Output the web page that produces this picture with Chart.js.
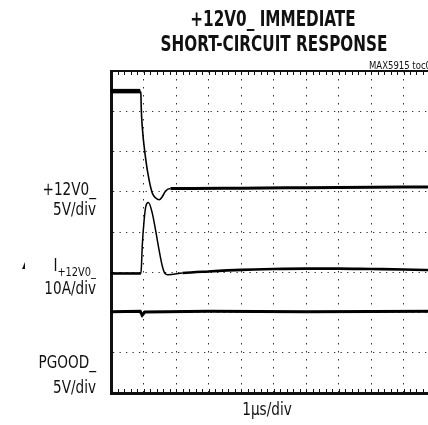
<!DOCTYPE html>
<html>
<head>
<meta charset="utf-8">
<script src="https://cdn.jsdelivr.net/npm/chart.js@4.4.0/dist/chart.umd.min.js"></script>
<style>
  html, body { margin: 0; padding: 0; background: #fff; overflow: hidden; }
  #wrap { width: 445px; height: 425px; }
</style>
</head>
<body>
<div id="wrap"><canvas id="scope" width="445" height="425"></canvas></div>
<script>
// Scope readings, in divisions (x: 0..10 @ 1us/div, y: 0..8)
const vTime  = [0, 0.90, 0.92, 0.93, 0.96, 1.07, 1.17, 1.27, 1.37, 1.48, 1.58, 1.68, 1.83, 2.5, 4, 6, 8, 10];
const vLevel = [7.5, 7.5, 7.42, 7.1, 6.63, 5.8, 5.3, 4.97, 4.85, 4.8, 4.88, 5.02, 5.08, 5.08, 5.09, 5.1, 5.11, 5.12];

const iTime  = [0, 0.92, 0.94, 0.96, 1.02, 1.07, 1.15, 1.27, 1.37, 1.48, 1.58, 1.66, 1.75, 2.2, 3, 4, 5, 6, 7, 8, 9, 10];
const iLevel = [2.97, 2.97, 3.2, 3.63, 4.3, 4.63, 4.73, 4.47, 4.05, 3.55, 3.15, 2.97, 2.94, 2.98, 3.02, 3.06, 3.08, 3.09, 3.09, 3.08, 3.07, 3.05];

const pTime  = [0, 0.90, 0.96, 1.04, 3, 6, 10];
const pLevel = [2.02, 2.03, 1.93, 2.01, 2.03, 2.02, 2.03];

const xDivs = [0, 10];
const yDivs = [0, 8];

const FONT = '"DejaVu Sans Condensed", "DejaVu Sans", sans-serif';

function pts(xs, ys) {
  return xs.map((x, i) => ({ x, y: ys[i] }));
}

// thin pen on the fast edges, thicker on the noisy flat parts
function penWidth(thick, thin, edge) {
  return ctx => {
    const x = ctx.p0.parsed.x;
    return (x >= edge[0] && x < edge[1]) ? thin : thick;
  };
}

// no narrow font installed, so squeeze a condensed one a bit more
function squeezed(ctx, text, x, y, sx, align) {
  ctx.save();
  ctx.translate(x, y);
  ctx.scale(sx, 1);
  ctx.textAlign = align;
  ctx.fillText(text, 0, 0);
  ctx.restore();
}

// frame, minor ticks and all the labels around the screen
const scopeDecor = {
  id: 'scopeDecor',
  afterDraw(chart) {
    const { ctx, chartArea: a, scales: { x } } = chart;
    ctx.save();
    ctx.strokeStyle = '#111';

    // top edge
    ctx.lineWidth = 2;
    ctx.beginPath();
    ctx.moveTo(a.left, a.top);
    ctx.lineTo(a.right + 1, a.top);
    ctx.stroke();

    // minor ticks at 1/5 div along top and bottom
    ctx.lineWidth = 1;
    ctx.beginPath();
    for (let v = xDivs[0]; v <= xDivs[1] + 1e-6; v += 0.2) {
      const px = Math.round(x.getPixelForValue(v)) + 0.5;
      ctx.moveTo(px, a.top);
      ctx.lineTo(px, a.top + 4);
      ctx.moveTo(px, a.bottom);
      ctx.lineTo(px, a.bottom - 4);
    }
    ctx.stroke();

    ctx.fillStyle = '#111';
    ctx.textBaseline = 'middle';

    // title
    ctx.font = `bold 22px ${FONT}`;
    squeezed(ctx, '+12V0_ IMMEDIATE', 273, 20, 0.77, 'center');
    squeezed(ctx, 'SHORT-CIRCUIT RESPONSE', 274, 45, 0.77, 'center');

    ctx.font = `11px ${FONT}`;
    squeezed(ctx, 'MAX5915 toc04', 369, 66, 0.86, 'left');

    ctx.font = `18px ${FONT}`;
    squeezed(ctx, '1\u00B5s/div', 267, 410, 0.84, 'center');

    // channel labels
    squeezed(ctx, '+12V0_', 96, 190, 0.84, 'right');
    squeezed(ctx, '5V/div', 96, 210, 0.84, 'right');

    squeezed(ctx, '10A/div', 96, 289, 0.84, 'right');
    ctx.font = `13px ${FONT}`;
    squeezed(ctx, '+12V0_', 96, 273, 0.84, 'right');
    const subW = ctx.measureText('+12V0_').width * 0.84;
    ctx.font = `18px ${FONT}`;
    squeezed(ctx, 'I', 96 - subW, 266, 0.84, 'right');

    squeezed(ctx, 'PGOOD_', 96, 363, 0.84, 'right');
    squeezed(ctx, '5V/div', 96, 388, 0.84, 'right');

    // small channel marker
    ctx.beginPath();
    ctx.moveTo(25, 262);
    ctx.lineTo(25, 269);
    ctx.lineTo(22, 269);
    ctx.closePath();
    ctx.fill();

    ctx.restore();
  }
};

new Chart(document.getElementById('scope'), {
  type: 'line',
  data: {
    datasets: [
      {
        label: '+12V0_',
        data: pts(vTime, vLevel),
        borderColor: '#000',
        borderWidth: 3,
        segment: {
          borderWidth: ctx => ctx.p0.parsed.x < 0.9 ? 4.5 : penWidth(3, 1.6, [0.9, 1.75])(ctx)
        },
        pointRadius: 0,
        cubicInterpolationMode: 'monotone',
        fill: false
      },
      {
        label: 'I+12V0_',
        data: pts(iTime, iLevel),
        borderColor: '#000',
        borderWidth: 2.4,
        segment: { borderWidth: penWidth(2.6, 1.5, [0.85, 2.2]) },
        pointRadius: 0,
        cubicInterpolationMode: 'monotone',
        fill: false
      },
      {
        label: 'PGOOD_',
        data: pts(pTime, pLevel),
        borderColor: '#000',
        borderWidth: 3,
        pointRadius: 0,
        tension: 0,
        fill: false
      }
    ]
  },
  options: {
    responsive: false,
    animation: false,
    layout: { padding: { left: 111, top: 71, right: 9, bottom: 32 } },
    plugins: {
      legend: { display: false },
      tooltip: { enabled: false }
    },
    scales: {
      x: {
        type: 'linear',
        min: xDivs[0],
        max: xDivs[1],
        ticks: { display: false, stepSize: 1 },
        grid: { color: '#333', lineWidth: 1, drawTicks: false },
        border: { display: true, color: '#111', width: 3, dash: [1.5, 6.5] }
      },
      y: {
        type: 'linear',
        min: yDivs[0],
        max: yDivs[1],
        ticks: { display: false, stepSize: 1 },
        grid: { color: '#333', lineWidth: 1, drawTicks: false },
        border: { display: true, color: '#111', width: 3, dash: [1.3, 5.2] }
      }
    }
  },
  plugins: [scopeDecor]
});
</script>
</body>
</html>
